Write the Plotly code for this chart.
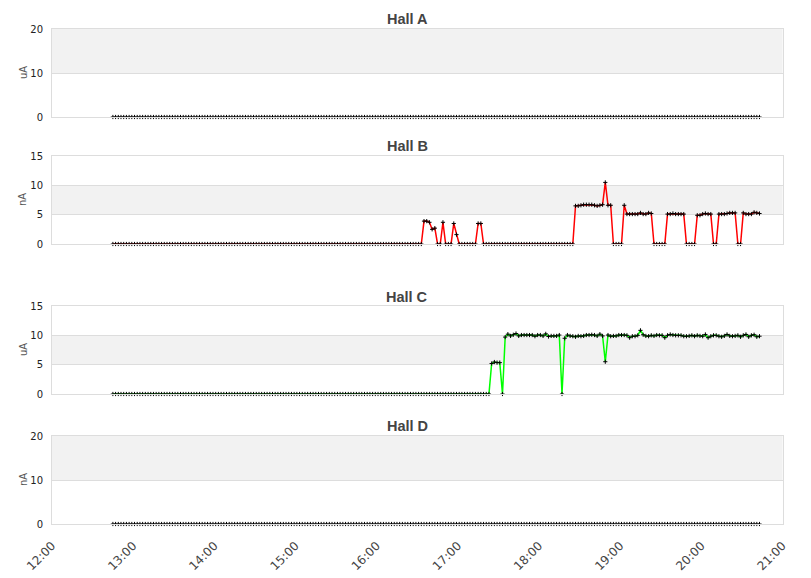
import pandas as pd
import plotly.graph_objects as go

# ---------------- data ----------------
start_time = "2024-01-01 12:45"
step = "2min"

hall_a_ua = [
    0, 0, 0, 0, 0, 0, 0, 0, 0, 0, 0, 0, 0, 0, 0, 0, 0, 0, 0, 0, 0, 0, 0, 0,
    0, 0, 0, 0, 0, 0, 0, 0, 0, 0, 0, 0, 0, 0, 0, 0, 0, 0, 0, 0, 0, 0, 0, 0,
    0, 0, 0, 0, 0, 0, 0, 0, 0, 0, 0, 0, 0, 0, 0, 0, 0, 0, 0, 0, 0, 0, 0, 0,
    0, 0, 0, 0, 0, 0, 0, 0, 0, 0, 0, 0, 0, 0, 0, 0, 0, 0, 0, 0, 0, 0, 0, 0,
    0, 0, 0, 0, 0, 0, 0, 0, 0, 0, 0, 0, 0, 0, 0, 0, 0, 0, 0, 0, 0, 0, 0, 0,
    0, 0, 0, 0, 0, 0, 0, 0, 0, 0, 0, 0, 0, 0, 0, 0, 0, 0, 0, 0, 0, 0, 0, 0,
    0, 0, 0, 0, 0, 0, 0, 0, 0, 0, 0, 0, 0, 0, 0, 0, 0, 0, 0, 0, 0, 0, 0, 0,
    0, 0, 0, 0, 0, 0, 0, 0, 0, 0, 0, 0, 0, 0, 0, 0, 0, 0, 0, 0, 0, 0, 0, 0,
    0, 0, 0, 0, 0, 0, 0, 0, 0, 0, 0, 0, 0, 0, 0, 0, 0, 0, 0, 0, 0, 0, 0, 0,
    0, 0, 0, 0, 0, 0, 0, 0, 0, 0, 0, 0, 0, 0, 0, 0, 0, 0, 0, 0, 0, 0, 0, 0,
]

hall_b_na = [
    0, 0, 0, 0, 0, 0, 0, 0, 0, 0, 0, 0, 0, 0, 0, 0, 0, 0, 0, 0,
    0, 0, 0, 0, 0, 0, 0, 0, 0, 0, 0, 0, 0, 0, 0, 0, 0, 0, 0, 0,
    0, 0, 0, 0, 0, 0, 0, 0, 0, 0, 0, 0, 0, 0, 0, 0, 0, 0, 0, 0,
    0, 0, 0, 0, 0, 0, 0, 0, 0, 0, 0, 0, 0, 0, 0, 0, 0, 0, 0, 0,
    0, 0, 0, 0, 0, 0, 0, 0, 0, 0, 0, 0, 0, 0, 0, 0, 0, 0, 0, 0,
    0, 0, 0, 0, 0, 0, 0, 0, 0, 0,
    0, 0, 0, 0, 0, 3.9, 3.9, 3.7, 2.5, 2.7,
    0, 0, 3.7, 0, 0, 0, 3.5, 1.6, 0, 0,
    0, 0, 0, 0, 0, 3.5, 3.5, 0, 0, 0,
    0, 0, 0, 0, 0, 0, 0, 0, 0, 0,
    0, 0, 0, 0, 0, 0, 0, 0, 0, 0,
    0, 0, 0, 0, 0, 0, 0, 0, 0, 0,
    0, 6.5, 6.5, 6.6, 6.7, 6.7, 6.7, 6.7, 6.6, 6.5,
    6.6, 6.7, 10.5, 6.6, 6.6, 0, 0, 0, 0, 6.6,
    5.1, 5.1, 5.1, 5.1, 5.1, 5.3, 5.1, 5.1, 5.3, 5.2,
    0, 0, 0, 0, 0, 5.1, 5.1, 5.2, 5.1, 5.1,
    5.1, 5.1, 0, 0, 0, 0, 4.9, 4.9, 5.1, 5.2,
    5.1, 5.1, 0, 0, 5.1, 5.1, 5.1, 5.2, 5.3, 5.3,
    5.3, 0, 0, 5.3, 5.1, 5.1, 5.1, 5.4, 5.3, 5.2,
]

hall_c_ua = [
    0, 0, 0, 0, 0, 0, 0, 0, 0, 0, 0, 0, 0, 0, 0, 0, 0, 0, 0, 0,
    0, 0, 0, 0, 0, 0, 0, 0, 0, 0, 0, 0, 0, 0, 0, 0, 0, 0, 0, 0,
    0, 0, 0, 0, 0, 0, 0, 0, 0, 0, 0, 0, 0, 0, 0, 0, 0, 0, 0, 0,
    0, 0, 0, 0, 0, 0, 0, 0, 0, 0, 0, 0, 0, 0, 0, 0, 0, 0, 0, 0,
    0, 0, 0, 0, 0, 0, 0, 0, 0, 0, 0, 0, 0, 0, 0, 0, 0, 0, 0, 0,
    0, 0, 0, 0, 0, 0, 0, 0, 0, 0, 0, 0, 0, 0, 0, 0, 0, 0, 0, 0,
    0, 0, 0, 0, 0, 0, 0, 0, 0, 0, 0, 0, 0, 0, 0, 0, 0, 0, 0, 0,
    5.2, 5.45, 5.35, 5.35, 0, 9.7, 10.2, 9.9, 10.1, 10.3,
    9.9, 10.05, 10.05, 10.05, 10.05, 10.05, 9.85, 10.05, 10.05, 9.9,
    10.25, 9.8, 9.9, 9.9, 9.9, 10.05, 0, 9.5, 10.05, 9.9,
    9.85, 9.75, 9.9, 9.85, 9.9, 10.05, 10.05, 10.1, 10.05, 9.9,
    10.2, 9.9, 5.5, 10.05, 9.85, 9.9, 9.9, 10.05, 10.05, 10.05,
    10.0, 9.6, 9.85, 9.85, 10.0, 10.85, 10.1, 9.9, 9.85, 10.0,
    9.9, 10.05, 10.0, 10.0, 9.6, 10.0, 10.15, 10.05, 10.0, 10.0,
    10.0, 9.85, 9.85, 9.9, 10.0, 9.85, 10.0, 9.9, 9.85, 10.15,
    9.6, 9.85, 10.0, 10.0, 9.85, 9.75, 9.9, 10.15, 9.9, 9.85,
    9.9, 10.0, 9.75, 10.0, 10.15, 9.75, 10.0, 10.1, 9.75, 9.85,
]

hall_d_na = [
    0, 0, 0, 0, 0, 0, 0, 0, 0, 0, 0, 0, 0, 0, 0, 0, 0, 0, 0, 0, 0, 0, 0, 0,
    0, 0, 0, 0, 0, 0, 0, 0, 0, 0, 0, 0, 0, 0, 0, 0, 0, 0, 0, 0, 0, 0, 0, 0,
    0, 0, 0, 0, 0, 0, 0, 0, 0, 0, 0, 0, 0, 0, 0, 0, 0, 0, 0, 0, 0, 0, 0, 0,
    0, 0, 0, 0, 0, 0, 0, 0, 0, 0, 0, 0, 0, 0, 0, 0, 0, 0, 0, 0, 0, 0, 0, 0,
    0, 0, 0, 0, 0, 0, 0, 0, 0, 0, 0, 0, 0, 0, 0, 0, 0, 0, 0, 0, 0, 0, 0, 0,
    0, 0, 0, 0, 0, 0, 0, 0, 0, 0, 0, 0, 0, 0, 0, 0, 0, 0, 0, 0, 0, 0, 0, 0,
    0, 0, 0, 0, 0, 0, 0, 0, 0, 0, 0, 0, 0, 0, 0, 0, 0, 0, 0, 0, 0, 0, 0, 0,
    0, 0, 0, 0, 0, 0, 0, 0, 0, 0, 0, 0, 0, 0, 0, 0, 0, 0, 0, 0, 0, 0, 0, 0,
    0, 0, 0, 0, 0, 0, 0, 0, 0, 0, 0, 0, 0, 0, 0, 0, 0, 0, 0, 0, 0, 0, 0, 0,
    0, 0, 0, 0, 0, 0, 0, 0, 0, 0, 0, 0, 0, 0, 0, 0, 0, 0, 0, 0, 0, 0, 0, 0,
]

panel_titles = ["Hall A", "Hall B", "Hall C", "Hall D"]
panel_units = ["uA", "nA", "uA", "nA"]
panel_values = [hall_a_ua, hall_b_na, hall_c_ua, hall_d_na]
panel_ticks = [[0, 10, 20], [0, 5, 10, 15], [0, 5, 10, 15], [0, 10, 20]]
panel_bands = [[10, 20], [5, 10], [5, 10], [10, 20]]
panel_colors = ["#d8d8d8", "#ff0000", "#00ff00", "#d8d8d8"]

x_tick_labels = ["12:00", "13:00", "14:00", "15:00", "16:00",
                 "17:00", "18:00", "19:00", "20:00", "21:00"]
x_tick_vals = ["2024-01-01 " + t for t in x_tick_labels]

for v in panel_values:
    assert len(v) == 240, len(v)
times = pd.date_range(start_time, periods=len(hall_a_ua), freq=step)

# ---------------- layout geometry (pixels) ----------------
W, H = 811, 578
PX_L, PX_R = 52, 782.5
panel_px = [(29, 117), (156, 244), (306, 394), (436, 524)]
title_px = [19, 146, 297, 426]

def py(y):
    return (H - y) / H

fig = go.Figure()
layout = dict(
    width=W, height=H, autosize=False,
    margin=dict(l=0, r=0, t=0, b=0, autoexpand=False),
    paper_bgcolor="white", plot_bgcolor="white",
    showlegend=False,
    font=dict(family="DejaVu Sans", size=10, color="#333333"),
)
annotations = []
shapes = []
GRID = "#dddddd"

for i in range(4):
    n = "" if i == 0 else str(i + 1)
    xa, ya = "x" + n, "y" + n
    top, bot = panel_px[i]
    fig.add_trace(go.Scatter(
        x=times, y=panel_values[i], xaxis=xa, yaxis=ya,
        mode="lines+markers",
        line=dict(color=panel_colors[i], width=1.5),
        marker=dict(symbol="cross-thin", size=3, color="black",
                    line=dict(color="black", width=1)),
        cliponaxis=False, hoverinfo="skip",
    ))
    last = (i == 3)
    layout["xaxis" + n] = dict(
        domain=[PX_L / W, PX_R / W], anchor=ya,
        type="date", automargin=False,
        range=[x_tick_vals[0], x_tick_vals[-1]],
        tickvals=x_tick_vals, ticktext=x_tick_labels,
        showticklabels=last, tickangle=-45,
        tickfont=dict(family="DejaVu Sans", size=12, color="#444444"),
        showgrid=False, zeroline=False,
        showline=True, linecolor=GRID, linewidth=1, mirror=True,
        ticks="outside", ticklen=9, tickcolor="rgba(0,0,0,0)",
        fixedrange=True,
    )
    if i > 0:
        layout["xaxis" + n]["matches"] = "x"
    layout["yaxis" + n] = dict(
        domain=[py(bot), py(top)], anchor=xa, automargin=False,
        range=[0, panel_ticks[i][-1]],
        tickvals=panel_ticks[i],
        tickfont=dict(family="DejaVu Sans", size=10, color="#222222"),
        showgrid=True, gridcolor=GRID, gridwidth=1,
        zeroline=False,
        showline=True, linecolor=GRID, linewidth=1, mirror=True,
        ticks="outside", ticklen=6, tickcolor="rgba(0,0,0,0)",
        fixedrange=True,
    )
    shapes.append(dict(
        type="rect", xref=xa + " domain", yref=ya,
        x0=0, x1=1, y0=panel_bands[i][0], y1=panel_bands[i][1],
        fillcolor="#f2f2f2", line=dict(width=0), layer="below",
    ))
    annotations.append(dict(
        text="<b>" + panel_titles[i] + "</b>", showarrow=False,
        xref="paper", yref="paper", x=407 / W, y=py(title_px[i]),
        xanchor="center", yanchor="middle",
        font=dict(family="Liberation Sans", size=14.5, color="#444444"),
    ))
    annotations.append(dict(
        text=panel_units[i], showarrow=False, textangle=-90,
        xref="paper", yref="paper", x=23 / W, y=py((top + bot) / 2),
        xanchor="center", yanchor="middle",
        font=dict(family="DejaVu Sans", size=10, color="#555555"),
    ))

layout["annotations"] = annotations
layout["shapes"] = shapes
fig.update_layout(**layout)
fig.write_html(
    "out.html",
    config={"displayModeBar": False, "staticPlot": True},
    post_script="document.body.style.margin='0';document.body.style.padding='0';",
)
